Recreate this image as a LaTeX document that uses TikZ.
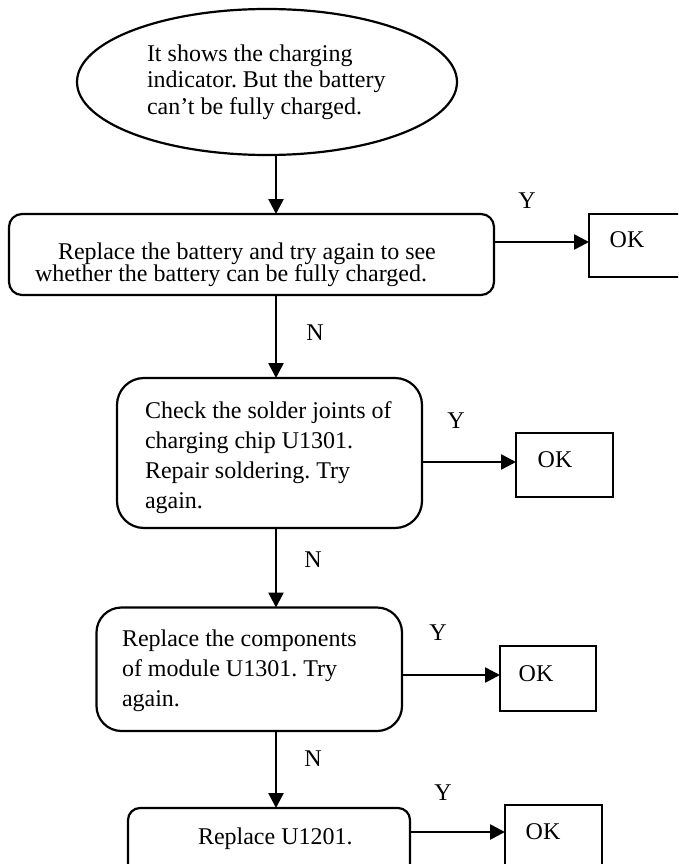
\documentclass[tikz,border=0pt]{standalone}
\usepackage{fontspec}
\setmainfont{Liberation Serif}
\usetikzlibrary{shapes.geometric,arrows.meta}
% allow lines closer than their glyph extents
\newcommand\tightlines{\lineskiplimit=-30pt\relax}
\frenchspacing

\begin{document}
\begin{tikzpicture}[x=1pt,y=-1pt,
  line width=2.2pt,
  every node/.style={inner sep=0pt, outer sep=0pt},
  % multi-line texts are placed by the baseline of their last line
  txt/.style={font=\fontsize{24}{#1}\selectfont\tightlines, align=left, anchor=base west},
  tag/.style={font=\fontsize{24}{27}\selectfont},
  flowbox/.style={draw, rectangle, rounded corners=#1},
  okbox/.style={draw, rectangle},
  arr/.style={line width=2.6pt, -{Triangle[length=15pt,width=15pt]}}
]
\clip (0,0) rectangle (678,864);

% vertical spine and the rows of the Y branches
\coordinate (spine) at (276,0);
\coordinate (r1) at (0,242);
\coordinate (r2) at (0,462);
\coordinate (r3) at (0,675);
\coordinate (r4) at (0,832);

% start
\node[ellipse, draw, minimum width=380pt, minimum height=146pt] (e) at (267,82) {};
\node[txt=27] (et) at (147,115) {It shows the charging\\indicator. But the battery\\can’t be fully charged.};

% step 1
\node[flowbox=13pt, minimum width=485pt, minimum height=81pt] (b1) at (251.5,254.5) {};
\node[txt=22] (b1t) at (35,281) {\hspace*{23pt}Replace the battery and try again to see\\whether the battery can be fully charged.};
\node[okbox, minimum width=111pt, minimum height=63pt] (ok1) at (644.5,245.5) {};
\node[tag] (ok1t) at (627,240) {OK};
\node[tag] (y1) at (527,201) {Y};

% step 2
\node[flowbox=27pt, minimum width=305pt, minimum height=150pt] (b2) at (269.5,453) {};
\node[txt=30] (b2t) at (145,508) {Check the solder joints of\\charging chip U1301.\\Repair soldering. Try\\again.};
\node[okbox, minimum width=97pt, minimum height=64pt] (ok2) at (564.5,465) {};
\node[tag] (ok2t) at (555,460) {OK};
\node[tag] (y2) at (456,421) {Y};
\node[tag] (n1) at (315,333) {N};

% step 3
\node[flowbox=25pt, minimum width=305.5pt, minimum height=123.5pt] (b3) at (249.25,669.25) {};
\node[txt=30] (b3t) at (122,706.5) {Replace the components\\of module U1301. Try\\again.};
\node[okbox, minimum width=96pt, minimum height=65pt] (ok3) at (548,678.5) {};
\node[tag] (ok3t) at (536,674) {OK};
\node[tag] (y3) at (438,633) {Y};
\node[tag] (n2) at (313,560) {N};

% step 4
\node[flowbox=12pt, minimum width=282pt, minimum height=72pt] (b4) at (269,844) {};
\node[txt=27] (b4t) at (198,844) {Replace U1201.};
\node[okbox, minimum width=97pt, minimum height=75pt] (ok4) at (553.5,842.5) {};
\node[tag] (ok4t) at (543,832) {OK};
\node[tag] (y4) at (443,793) {Y};
\node[tag] (n3) at (313,759) {N};

% main flow
\draw[arr] (spine |- e.south) -- (spine |- b1.north);
\draw[arr] (spine |- b1.south) -- (spine |- b2.north);
\draw[arr] (spine |- b2.south) -- (spine |- b3.north);
\draw[arr] (spine |- b3.south) -- (spine |- b4.north);

% Y branches
\draw[arr] (b1.east |- r1) -- (ok1.west |- r1);
\draw[arr] (b2.east |- r2) -- (ok2.west |- r2);
\draw[arr] (b3.east |- r3) -- (ok3.west |- r3);
\draw[arr] (b4.east |- r4) -- (ok4.west |- r4);
\end{tikzpicture}
\end{document}
